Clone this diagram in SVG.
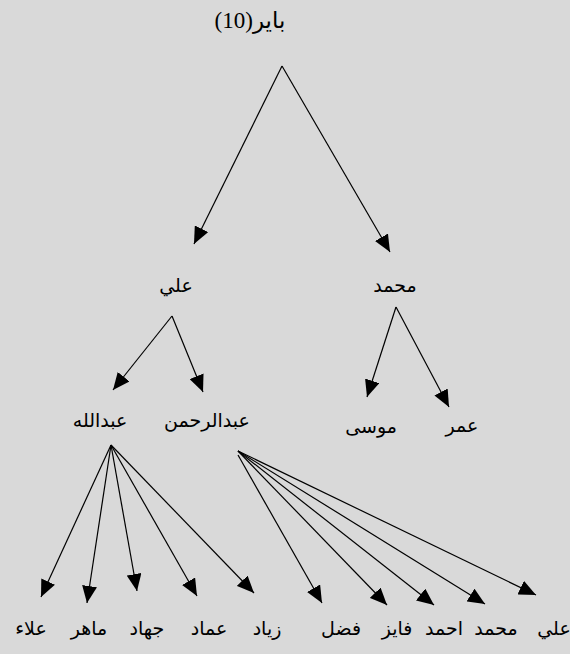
<svg xmlns="http://www.w3.org/2000/svg" width="570" height="654" viewBox="0 0 570 654">
<style>
.t{font-family:"Liberation Serif","DejaVu Sans",serif;font-size:19px;fill:#000;text-anchor:middle;direction:rtl;unicode-bidi:embed}
.r{font-size:23px}
.c line{stroke:#000;stroke-width:1.2;marker-end:url(#ah)}
</style>
<defs>
<marker id="ah" markerUnits="userSpaceOnUse" markerWidth="18" markerHeight="15" refX="17" refY="7.5" orient="auto">
<path d="M0,0 L17,7.5 L0,15 z" fill="#000"/>
</marker>
</defs>
<rect width="570" height="654" fill="#d9d9d9"/>
<g id="connectors" class="c">
<line x1="282" y1="66" x2="194" y2="244"/>
<line x1="282" y1="66" x2="390" y2="252"/>
<line x1="172" y1="316" x2="113" y2="390"/>
<line x1="172" y1="316" x2="203" y2="392"/>
<line x1="396" y1="307" x2="367" y2="397"/>
<line x1="396" y1="307" x2="449" y2="407"/>
<line x1="111" y1="445" x2="41" y2="597"/>
<line x1="111" y1="445" x2="87" y2="603"/>
<line x1="111" y1="445" x2="137" y2="591"/>
<line x1="111" y1="445" x2="197" y2="596"/>
<line x1="111" y1="445" x2="254" y2="593"/>
<line x1="238" y1="455" x2="322" y2="603"/>
<line x1="238" y1="451" x2="387" y2="605"/>
<line x1="238" y1="451" x2="434" y2="605"/>
<line x1="238" y1="451" x2="485" y2="604"/>
<line x1="238" y1="451" x2="536" y2="595"/>
</g>
<g id="n-root"><text class="t r" x="250" y="28">باير(10)</text></g>
<g id="n-ali"><text class="t" x="176" y="292">علي</text></g>
<g id="n-muhammad"><text class="t" x="395" y="292">محمد</text></g>
<g id="n-abdullah"><text class="t" x="100" y="427">عبدالله</text></g>
<g id="n-abdulrahman"><text class="t" x="207" y="427">عبدالرحمن</text></g>
<g id="n-musa"><text class="t" x="371" y="433">موسى</text></g>
<g id="n-umar"><text class="t" x="462" y="432">عمر</text></g>
<g id="n-alaa"><text class="t" x="31" y="635">علاء</text></g>
<g id="n-maher"><text class="t" x="89" y="635">ماهر</text></g>
<g id="n-jihad"><text class="t" x="147" y="635">جهاد</text></g>
<g id="n-imad"><text class="t" x="209" y="635">عماد</text></g>
<g id="n-ziyad"><text class="t" x="267" y="635">زياد</text></g>
<g id="n-fadl"><text class="t" x="341" y="635">فضل</text></g>
<g id="n-faiz"><text class="t" x="397" y="635">فايز</text></g>
<g id="n-ahmad"><text class="t" x="444" y="635">احمد</text></g>
<g id="n-muhammad2"><text class="t" x="496" y="635">محمد</text></g>
<g id="n-ali2"><text class="t" x="554" y="635">علي</text></g>
</svg>
